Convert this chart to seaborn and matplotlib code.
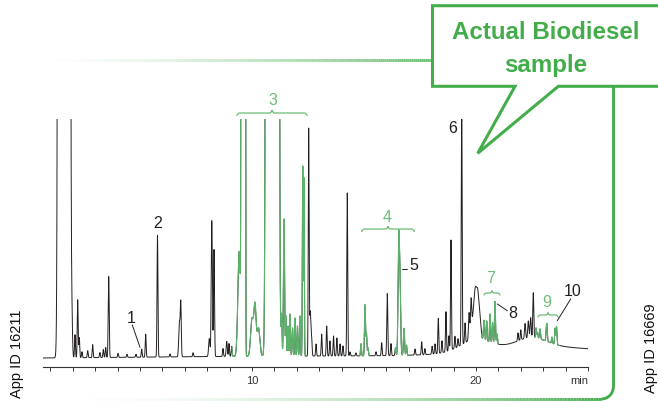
import numpy as np
import pandas as pd
import matplotlib
matplotlib.use("Agg")
import matplotlib.pyplot as plt
import seaborn as sns
from matplotlib import font_manager
from matplotlib.path import Path
from matplotlib.patches import PathPatch, Arc
from matplotlib.collections import LineCollection

# ---------------- data ----------------
# retention time (min), height (baseline units), width sigma (min)
peak_times = [1.61, 1.951, 2.098, 2.219, 2.290, 2.41, 2.665, 2.888, 3.21, 3.362, 3.469,
              3.603, 4.02, 4.42, 4.82, 5.076, 5.254, 5.781, 6.34, 6.76, 6.821, 7.37,
              8.094, 8.205, 8.304, 8.705, 8.871, 8.973, 9.094,
              9.43, 9.61, 10.0, 10.134, 10.29, 10.91, 11.43, 11.32, 11.52, 11.61, 11.70,
              11.81, 11.92, 12.03, 12.14, 12.263, 12.32,
              12.53, 12.60, 12.665, 12.86, 13.11, 13.335, 13.48, 13.64, 13.79, 13.93,
              14.06, 14.254, 14.375, 14.64,
              14.866, 15.045, 15.11, 15.18,
              15.536, 15.79, 16.04, 16.205,
              16.406, 16.549, 16.607, 16.786, 16.897,
              17.277, 17.576, 17.72, 18.04, 18.17, 18.317, 18.48, 18.66, 18.79, 18.884,
              19.06, 19.196, 19.362, 19.51, 19.69, 19.78,
              19.87, 19.987, 20.09, 20.18,
              20.357, 20.478, 20.625, 20.737, 20.848, 20.94,
              21.875, 22.0, 22.19, 22.335, 22.44, 22.557, 22.68,
              22.746, 22.857, 23.156, 23.39, 23.53, 23.594]
peak_heights = [1e6, 43, 23, 58, 20, 6, 7, 13, 5, 8, 10,
                81, 4, 3, 3, 8, 23, 122, 3, 35, 52, 4,
                18, 136, 107, 8, 15, 13, 10,
                105, 1e6, 37, 50, 28, 1e6, 137, 40, 40, 30, 42,
                28, 38, 30, 40, 190, 178,
                225, 45, 15, 12, 22, 30, 15, 20, 18, 12,
                10, 163, 4, 3,
                12, 51, 22, 8,
                4, 13, 62, 12,
                8, 112, 70, 27, 10,
                6, 13, 6, 8, 10, 35, 12, 40, 15, 110,
                12, 8, 250, 20, 25, 30,
                18, 42, 30, 20,
                20, 20, 28, 20, 42, 10,
                8, 10, 15, 17, 20, 45, 10,
                6, 10, 18, 6, 16, 18]
peak_widths = [0.076, 0.03, 0.02, 0.02, 0.02, 0.02, 0.02, 0.02, 0.02, 0.02, 0.02,
               0.022, 0.02, 0.02, 0.02, 0.02, 0.02, 0.02, 0.02, 0.03, 0.022, 0.02,
               0.03, 0.025, 0.022, 0.02, 0.025, 0.02, 0.02,
               0.06, 0.027, 0.06, 0.05, 0.06, 0.081, 0.025, 0.02, 0.02, 0.02, 0.02,
               0.02, 0.02, 0.02, 0.02, 0.016, 0.016,
               0.018, 0.03, 0.02, 0.02, 0.02, 0.02, 0.02, 0.02, 0.02, 0.02,
               0.02, 0.02, 0.02, 0.02,
               0.02, 0.022, 0.02, 0.02,
               0.02, 0.02, 0.022, 0.02,
               0.02, 0.03, 0.03, 0.025, 0.02,
               0.02, 0.02, 0.02, 0.02, 0.02, 0.02, 0.02, 0.02, 0.02, 0.02,
               0.02, 0.02, 0.02, 0.02, 0.025, 0.025,
               0.10, 0.07, 0.045, 0.045,
               0.025, 0.02, 0.02, 0.02, 0.022, 0.02,
               0.02, 0.02, 0.025, 0.025, 0.025, 0.022, 0.02,
               0.02, 0.025, 0.025, 0.02, 0.02, 0.02]

# slow baseline drift components: centre (min), height, sigma (min)
drift_times = [14.0, 20.0, 22.45, 23.5]
drift_heights = [3, 12, 10, 10]
drift_widths = [9.0, 0.7, 0.7, 3.0]

# retention windows drawn in green (biodiesel-related groups)
green_starts = [9.10, 14.79, 16.38, 20.25, 22.62]
green_ends = [12.42, 15.24, 17.00, 21.00, 23.72]

tick_values = list(range(1, 26))
tick_labels = ["" for _ in tick_values]
tick_labels[9] = "10"
tick_labels[19] = "20"
tick_labels[24] = "min"

# ---------------- build trace ----------------
t = np.arange(0.67, 25.0005, 0.002)
signal = np.zeros_like(t)
for c, h, s in zip(peak_times, peak_heights, peak_widths):
    signal += h * np.exp(-0.5 * ((t - c) / s) ** 2)
for c, h, s in zip(drift_times, drift_heights, drift_widths):
    signal += h * np.exp(-0.5 * ((t - c) / s) ** 2)
signal = np.minimum(signal, 400)
df = pd.DataFrame({"time": t, "signal": signal})

# ---------------- fonts ----------------
sns.set_theme(style="white")
names = {f.name for f in font_manager.fontManager.ttflist}
narrow = "Liberation Sans Narrow" in names
plt.rcParams["font.family"] = ["Liberation Sans", "DejaVu Sans"]
lab_family = ["Liberation Sans Narrow", "Liberation Sans", "DejaVu Sans"] if narrow else ["Liberation Sans", "DejaVu Sans"]
lab_size = 12 if narrow else 11.5
call_size = 20.5 if narrow else 17.4

BLACK = "#231f20"
GREEN = "#5cb26a"
LGREEN = "#6dbd79"
BOX = "#43ad4b"

fig = plt.figure(figsize=(6.58, 4.02), dpi=100)
W, H = 658, 402
# chromatogram axes: x 43..588 px, y 120..368 px
ax = fig.add_axes([43 / W, (H - 368) / H, (588 - 43) / W, (368 - 120) / H])
sns.lineplot(data=df, x="time", y="signal", color=BLACK, lw=0.7,
             estimator=None, sort=False, ax=ax)
for a, b in zip(green_starts, green_ends):
    seg = df[(df["time"] >= a) & (df["time"] <= b)]
    sns.lineplot(data=seg, x="time", y="signal", color=GREEN, lw=0.85,
                 estimator=None, sort=False, ax=ax)
ax.set_xlim(0.67, 25.0)
ax.set_ylim(-8, 240)
ax.set_xlabel("")
ax.set_ylabel("")
for side in ["top", "right", "left"]:
    ax.spines[side].set_visible(False)
ax.spines["bottom"].set_color("#333333")
ax.spines["bottom"].set_linewidth(0.8)
ax.set_yticks([])
ax.set_xticks(tick_values)
ax.set_xticklabels(tick_labels)
ax.tick_params(axis="x", direction="out", length=3, width=0.7, color="#333333",
               labelsize=8, labelcolor="#333333", pad=3, bottom=True)
for lbl in ax.get_xticklabels():
    if lbl.get_text() == "min":
        lbl.set_ha("right")
ax.patch.set_visible(False)

# ---------------- overlay (pixel coordinates) ----------------
ov = fig.add_axes([0, 0, 1, 1])
ov.set_xlim(0, W)
ov.set_ylim(H, 0)
ov.axis("off")
ov.patch.set_visible(False)


def gradline(x0, x1, y, a0, a1, power, lw):
    xs = np.linspace(x0, x1, 200)
    segs = [[(xs[i], y), (xs[i + 1], y)] for i in range(len(xs) - 1)]
    fr = np.linspace(0, 1, len(segs)) ** power
    al = a0 + (a1 - a0) * fr
    rgb = matplotlib.colors.to_rgb(BOX)
    cols = [(rgb[0], rgb[1], rgb[2], a) for a in al]
    ov.add_collection(LineCollection(segs, colors=cols, linewidths=lw, capstyle="butt"))


# frame
gradline(40, 433, 61, 0.0, 0.8, 1.5, 2.1)
gradline(40, 601, 400, 0.0, 1.0, 2.0, 2.1)
ov.plot([613.3, 613.3], [87.3, 388], color=BOX, lw=2.1, solid_capstyle="butt")
ov.add_patch(Arc((601.3, 388), 24, 24, theta1=0, theta2=90, color=BOX, lw=2.1))
# callout
verts = [(670, 6.7), (432.5, 6.7), (432.5, 87.3), (515, 87.3), (477.7, 154.3),
         (558.3, 87.3), (670, 87.3)]
ov.plot([v[0] for v in verts], [v[1] for v in verts], color=BOX, lw=2.2,
        solid_joinstyle="miter", clip_on=False)
ov.text(546, 39.3, "Actual Biodiesel", color=BOX, fontsize=call_size, fontweight="bold",
        ha="center", va="baseline", family=lab_family)
ov.text(546, 71.7, "sample", color=BOX, fontsize=call_size, fontweight="bold",
        ha="center", va="baseline", family=lab_family)

# side texts
ov.text(17.5, 353.5, "App ID 16211", rotation=90, ha="center", va="center",
        fontsize=10.5, color="#111111")
ov.text(650.5, 348, "App ID 16669", rotation=90, ha="center", va="center",
        fontsize=10.5, color="#111111", clip_on=False)


def brace(x0, x1, yb, d, color):
    xc = (x0 + x1) / 2
    v = [(x0, yb + d), (x0, yb), (x0 + d, yb), (xc - d, yb), (xc, yb), (xc, yb - d),
         (xc, yb), (xc + d, yb), (x1 - d, yb), (x1, yb), (x1, yb + d)]
    c = [Path.MOVETO, Path.CURVE3, Path.CURVE3, Path.LINETO, Path.CURVE3, Path.CURVE3,
         Path.CURVE3, Path.CURVE3, Path.LINETO, Path.CURVE3, Path.CURVE3]
    ov.add_patch(PathPatch(Path(v, c), fc="none", ec=color, lw=0.9))


brace(237, 307, 114, 3, LGREEN)
brace(361.7, 414.3, 230, 3, LGREEN)
brace(484, 500, 294, 2.5, LGREEN)
brace(538, 558, 316, 2.5, LGREEN)

labels = [("1", 131, 319, BLACK), ("2", 157.5, 224, BLACK), ("3", 272.5, 100.5, LGREEN),
          ("4", 387.5, 217.5, LGREEN), ("5", 413.5, 266, BLACK), ("6", 453, 129, BLACK),
          ("7", 491, 279, LGREEN), ("8", 513, 313.5, BLACK), ("9", 546.7, 302.5, LGREEN),
          ("10", 572.5, 291.5, BLACK)]
for s, x, y, col in labels:
    ov.text(x, y, s, color=col, fontsize=lab_size, ha="center", va="center",
            family=lab_family)
leaders = [((132.3, 326), (140, 348.3)), ((401.7, 270), (407.3, 270)),
           ((497.3, 305), (507.3, 311.7)), ((570.7, 300), (557.3, 321.7))]
for (xa, ya), (xb, yb) in leaders:
    ov.plot([xa, xb], [ya, yb], color=BLACK, lw=0.7)

fig.savefig("out.png", dpi=100)
